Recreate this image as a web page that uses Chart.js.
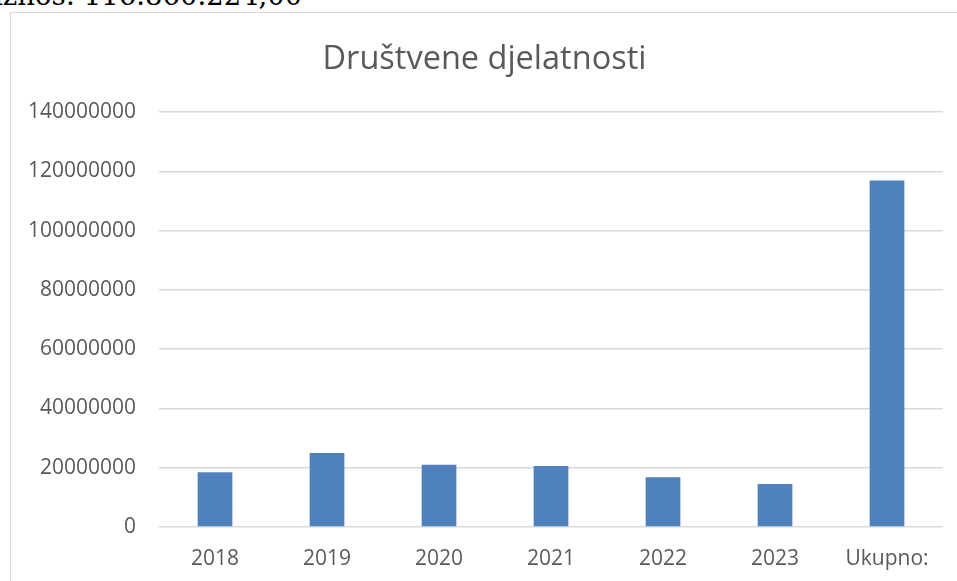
<!DOCTYPE html>
<html>
<head>
<meta charset="utf-8">
<script src="https://cdn.jsdelivr.net/npm/chart.js@4"></script>
<style>
  html, body { margin: 0; padding: 0; background: #fff; overflow: hidden; }
  body { width: 957px; height: 581px; position: relative; }
  #above {
    position: absolute; left: -6px; top: -20px;
    font-family: "DejaVu Serif", serif; font-size: 27.5px; color: #000;
    white-space: nowrap; line-height: 30px;
  }
  #box {
    position: absolute; left: 10px; top: 12px;
    width: 960px; height: 580px;
    border: 1px solid #d9d9d9; background: #fff;
  }
</style>
</head>
<body>
<div id="above">iznos: 116.860.224,00</div>
<div id="box"><canvas id="chart"></canvas></div>
<script>
const categories = ["2018", "2019", "2020", "2021", "2022", "2023", "Ukupno:"];
const values = [18500000, 25000000, 21000000, 20600000, 16800000, 14500000, 116860224];
const yTicks = [0, 20000000, 40000000, 60000000, 80000000, 100000000, 120000000, 140000000];

const textColor = "#595959";
const gridColor = "#d9d9d9";

new Chart(document.getElementById("chart").getContext("2d"), {
  type: "bar",
  data: {
    labels: categories,
    datasets: [
      {
        data: values,
        backgroundColor: "#4f81bd",
        categoryPercentage: 1,
        barPercentage: 0.31,
      },
    ],
  },
  options: {
    responsive: true,
    maintainAspectRatio: false,
    animation: false,
    layout: { padding: { left: 15, right: 28, top: 0, bottom: 0 } },
    plugins: {
      legend: { display: false },
      tooltip: { enabled: false },
      title: {
        display: true,
        text: "Društvene djelatnosti",
        color: textColor,
        font: { family: "Open Sans", size: 32.5, weight: "normal" },
        padding: { top: 27, bottom: 33 },
      },
    },
    scales: {
      x: {
        grid: { display: false },
        border: { display: false },
        ticks: {
          color: textColor,
          font: { family: "Open Sans", size: 21 },
          padding: 11,
          maxRotation: 0,
        },
        afterFit: (scale) => {
          scale.height = 66;
        },
      },
      y: {
        min: 0,
        max: 140000000,
        afterBuildTicks: (scale) => {
          scale.ticks = yTicks.map((v) => ({ value: v }));
        },
        grid: { color: gridColor, lineWidth: 1.5, drawTicks: false },
        border: { display: false },
        ticks: {
          color: textColor,
          font: { family: "Open Sans", size: 21 },
          padding: 23,
          callback: (v) => String(v),
        },
        afterFit: (scale) => {
          scale.width = 133;
        },
      },
    },
  },
});
</script>
</body>
</html>
